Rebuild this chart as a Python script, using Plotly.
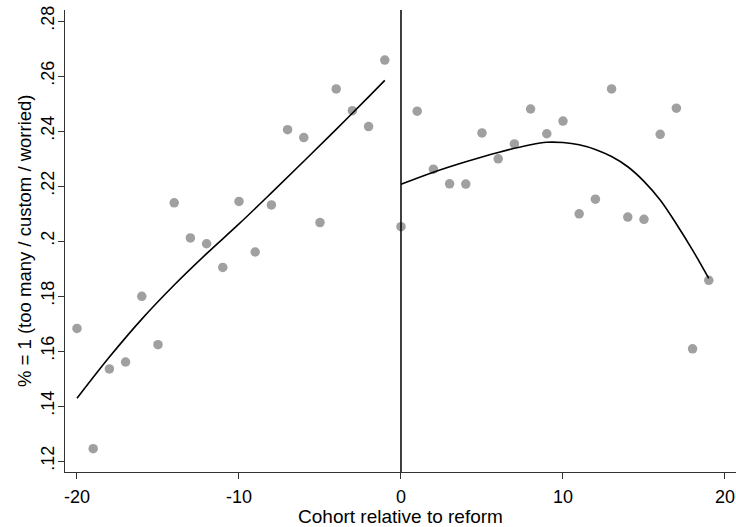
import plotly.graph_objects as go

# Scatter data (cohort relative to reform, share)
cohort = list(range(-20, 20))
share = [0.1682, 0.1245, 0.1535, 0.1560, 0.1799, 0.1623, 0.2139, 0.2011, 0.1990, 0.1904,
         0.2144, 0.1960, 0.2131, 0.2405, 0.2376, 0.2067, 0.2553, 0.2474, 0.2416, 0.2658,
         0.2052, 0.2472, 0.2261, 0.2208, 0.2207, 0.2393, 0.2299, 0.2353, 0.2480, 0.2390,
         0.2436, 0.2099, 0.2152, 0.2553, 0.2087, 0.2079, 0.2388, 0.2483, 0.1608, 0.1857]

# Fitted curve before reform
fit_left_x = [-20, -18, -16, -14, -12, -10, -8, -6, -4, -2, -1]
fit_left_y = [0.1428, 0.1578, 0.1716, 0.1840, 0.1954, 0.2062, 0.2175, 0.2290, 0.2406, 0.2524, 0.2584]

# Fitted curve after reform
fit_right_x = [0, 2, 4, 6, 8, 9, 10, 11, 12, 13, 14, 15, 16, 17, 18, 19]
fit_right_y = [0.2206, 0.2250, 0.2288, 0.2322, 0.2350, 0.2359, 0.2358, 0.2350, 0.2333, 0.2307,
               0.2270, 0.2217, 0.2149, 0.2062, 0.1967, 0.1864]

x_ticks = [-20, -10, 0, 10, 20]
y_ticks = [0.12, 0.14, 0.16, 0.18, 0.20, 0.22, 0.24, 0.26, 0.28]
y_tick_labels = [".12", ".14", ".16", ".18", ".2", ".22", ".24", ".26", ".28"]

FONT = "Liberation Sans, Arial, Helvetica, sans-serif"

fig = go.Figure()
fig.add_trace(go.Scatter(
    x=cohort, y=share, mode="markers",
    marker=dict(size=9.5, color="#a0a0a0"),
    showlegend=False, hoverinfo="skip"))
for fx, fy in ((fit_left_x, fit_left_y), (fit_right_x, fit_right_y)):
    fig.add_trace(go.Scatter(
        x=fx, y=fy, mode="lines",
        line=dict(color="black", width=1.6, shape="spline", smoothing=1.0),
        showlegend=False, hoverinfo="skip"))

fig.add_shape(type="line", xref="x", yref="paper", x0=0, x1=0, y0=0, y1=1,
              line=dict(color="black", width=1.5))

# y-axis title placed as rotated text beside the axis
fig.add_annotation(text="% = 1 (too many / custom / worried)", textangle=-90,
                   xref="paper", yref="paper", x=-0.0611, y=0.5,
                   xanchor="center", yanchor="middle", showarrow=False,
                   font=dict(size=18.5, family=FONT, color="black"))

fig.update_layout(
    width=736, height=527,
    margin=dict(l=65, r=0, t=10, b=55, autoexpand=False),
    paper_bgcolor="white", plot_bgcolor="white",
    font=dict(family=FONT, size=18, color="black"),
    xaxis=dict(
        range=[-20.74, 20.68], tickvals=x_ticks,
        ticktext=[str(v) for v in x_ticks],
        ticks="outside", ticklen=6, tickwidth=1.2, tickcolor="#333",
        showline=True, linecolor="#333", linewidth=1.3,
        showgrid=False, zeroline=False, automargin=False,
        tickfont=dict(size=18), ticklabelstandoff=2,
        title=dict(text="Cohort relative to reform", font=dict(size=19), standoff=0)),
    yaxis=dict(
        range=[0.116, 0.284], tickvals=y_ticks, ticktext=y_tick_labels,
        tickangle=-90,
        ticks="outside", ticklen=6, tickwidth=1.2, tickcolor="#333",
        showline=True, linecolor="#333", linewidth=1.3,
        showgrid=False, zeroline=False, automargin=False,
        tickfont=dict(size=18), ticklabelstandoff=-3),
)

fig.write_html("out.html", config={"displayModeBar": False},
               post_script="document.body.style.margin='0';document.body.style.overflow='hidden';")
